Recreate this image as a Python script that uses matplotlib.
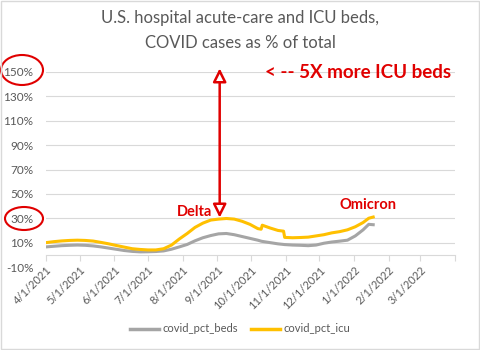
import pandas as pd
import matplotlib
matplotlib.use("Agg")
import matplotlib.pyplot as plt
from matplotlib.patches import Ellipse, Rectangle
from matplotlib.lines import Line2D

dates = ["2021-04-01", "2021-04-08", "2021-04-15", "2021-04-22", "2021-04-29",
         "2021-05-06", "2021-05-13", "2021-05-20", "2021-05-27",
         "2021-06-03", "2021-06-10", "2021-06-17", "2021-06-24",
         "2021-07-01", "2021-07-08", "2021-07-15", "2021-07-22", "2021-07-29",
         "2021-08-05", "2021-08-12", "2021-08-19", "2021-08-26",
         "2021-09-02", "2021-09-09", "2021-09-16", "2021-09-23", "2021-09-30",
         "2021-10-07", "2021-10-10", "2021-10-11", "2021-10-18", "2021-10-25",
         "2021-10-30", "2021-10-31",
         "2021-11-07", "2021-11-14", "2021-11-21", "2021-11-28",
         "2021-12-05", "2021-12-12", "2021-12-19", "2021-12-26",
         "2022-01-02", "2022-01-09", "2022-01-14", "2022-01-18"]

covid_pct_icu = [10.0, 10.8, 11.4, 11.8, 12.0,
                 11.8, 11.3, 10.2, 9.0,
                 7.6, 6.3, 5.0, 4.4,
                 4.0, 4.0, 5.0, 8.0, 13.0,
                 17.5, 22.5, 26.0, 28.5,
                 29.3, 29.8, 29.3, 27.5, 25.0,
                 21.5, 21.0, 24.3, 22.0, 20.0,
                 19.4, 14.3,
                 14.0, 14.2, 14.5, 15.5,
                 16.5, 18.0, 19.0, 20.5,
                 23.0, 26.5, 30.0, 31.0]

covid_pct_beds = [6.5, 7.0, 7.5, 7.8, 8.0,
                  7.8, 7.3, 6.5, 5.5,
                  4.5, 3.5, 2.8, 2.4,
                  2.5, 2.7, 3.2, 4.6, 6.5,
                  8.5, 11.5, 14.0, 15.8,
                  17.2, 17.5, 16.5, 15.0, 13.5,
                  12.0, 11.2, 11.0, 10.0, 9.0,
                  8.5, 8.4,
                  8.0, 7.8, 7.5, 8.0,
                  9.5, 10.5, 11.2, 12.0,
                  15.5, 20.5, 25.0, 24.7]

yticks = list(range(-10, 151, 20))

x = pd.to_datetime(dates)

plt.rcParams['font.family'] = ['Lato', 'DejaVu Sans']
txt_gray = '#595959'
red = '#E00000'

fig = plt.figure(figsize=(4.8, 3.5), dpi=100)
ax = fig.add_axes([46/480, 1 - 267/350, (455 - 46)/480, (267 - 72)/350])

# spine position first, it resets the tick setup
for s in ['top', 'right', 'left']:
    ax.spines[s].set_visible(False)
ax.spines['bottom'].set_position(('data', 0))
ax.spines['bottom'].set_color('#D9D9D9')

ax.plot(x, covid_pct_beds, color='#A5A5A5', lw=2.2, label='covid_pct_beds')
ax.plot(x, covid_pct_icu, color='#FFC000', lw=2.2, label='covid_pct_icu')

ax.set_xlim(pd.Timestamp('2021-04-01'), pd.Timestamp('2022-04-01'))
ax.set_ylim(-10, 150)
ax.set_yticks(yticks)
ax.set_yticklabels([f"{v}%" for v in yticks])
ax.grid(True, axis='y', color='#D9D9D9', lw=0.8)
ax.yaxis.get_gridlines()[0].set_visible(False)
ax.set_axisbelow(True)

months = pd.date_range('2021-04-01', '2022-04-01', freq='MS')
ax.set_xticks(months)
ax.set_xticklabels([f"{d.month}/{d.day}/{d.year}" for d in months[:-1]] + [''])
plt.setp(ax.get_xticklabels(), rotation=45, ha='right', rotation_mode='anchor')
ax.tick_params(axis='x', length=4, color='#D9D9D9', labelsize=8,
               labelcolor=txt_gray, pad=3)
ax.tick_params(axis='y', length=0, labelsize=8.5, labelcolor=txt_gray, pad=9)

fig.text(0.5, 1 - 18/350, 'U.S. hospital acute-care and ICU beds,', ha='center',
         va='center', fontsize=12, color=txt_gray)
fig.text(0.5, 1 - 43/350, 'COVID cases as % of total', ha='center',
         va='center', fontsize=12, color=txt_gray)

ax.annotate('', xy=(pd.Timestamp('2021-09-03'), 153),
            xytext=(pd.Timestamp('2021-09-03'), 30.5),
            arrowprops=dict(arrowstyle='<|-|>', ec=red, fc='white', lw=1.8,
                            mutation_scale=20, shrinkA=0, shrinkB=0),
            annotation_clip=False)

ax.text(pd.Timestamp('2021-10-13'), 150, '< -- 5X more ICU beds', color=red,
        fontsize=13.5, fontweight='bold', va='center', ha='left')
ax.text(pd.Timestamp('2021-07-27'), 35, 'Delta', color=red, fontsize=10.5,
        fontweight='bold', va='center', ha='left')
ax.text(pd.Timestamp('2021-12-19'), 40.5, 'Omicron', color=red, fontsize=10.5,
        fontweight='bold', va='center', ha='left')

fig.add_artist(Ellipse((22/480, 1 - 70/350), 42/480, 30/350, fill=False,
                       ec=red, lw=1.5, transform=fig.transFigure))
fig.add_artist(Ellipse((24/480, 1 - 218.5/350), 38/480, 23/350, fill=False,
                       ec=red, lw=1.5, transform=fig.transFigure))
fig.add_artist(Rectangle((0.002, 0.003), 0.995, 0.994, fill=False, ec='#D9D9D9',
                         lw=1, transform=fig.transFigure))

handles = [Line2D([], [], color='#A5A5A5', lw=2.5),
           Line2D([], [], color='#FFC000', lw=2.5)]
leg = fig.legend(handles, ['covid_pct_beds', 'covid_pct_icu'], loc='center',
                 bbox_to_anchor=(0.5, 21/350), ncol=2, frameon=False,
                 fontsize=8, handlelength=2.6, handletextpad=0.3,
                 columnspacing=1.2)
for t in leg.get_texts():
    t.set_color(txt_gray)

plt.savefig("out.png", dpi=100)
